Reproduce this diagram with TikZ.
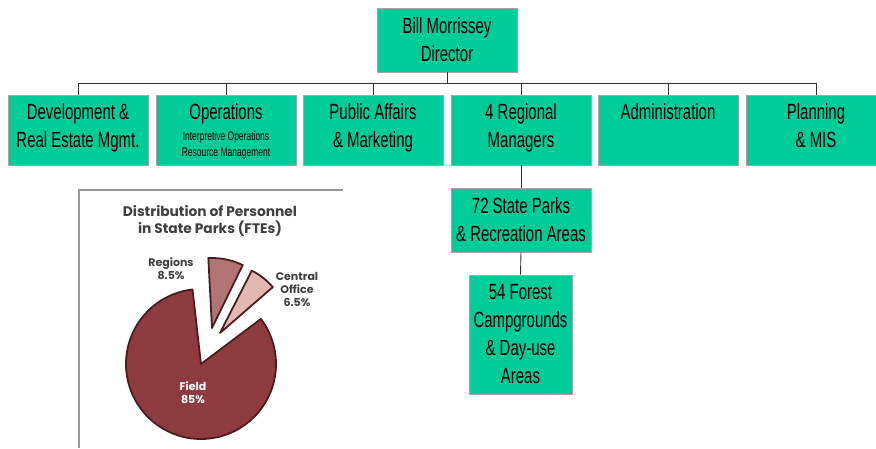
\documentclass[tikz,border=0pt]{standalone}
\usepackage{fontspec}
\newfontfamily\orgfont[FakeStretch=0.68]{Liberation Sans}
\newfontfamily\piefont{Poppins}
\usetikzlibrary{positioning}
\definecolor{parkgreen}{HTML}{00CC99}
\definecolor{fieldred}{HTML}{8E3B40}
\definecolor{regionred}{HTML}{B27472}
\definecolor{officepink}{HTML}{E2B8B3}
\definecolor{pieline}{HTML}{4A1E20}

\begin{document}
\begin{tikzpicture}[x=1pt, y=-1pt,
  unit/.style={draw=gray!70, line width=0.8pt, fill=parkgreen, minimum width=140pt, minimum height=70pt, inner sep=0pt},
  toptext/.style={anchor=north, inner sep=0pt, yshift=-9pt, align=center, font=\orgfont\fontsize{22}{28}\selectfont},
  plainbox/.style={draw=gray!70, line width=0.8pt, fill=parkgreen, align=center, inner sep=0pt, font=\orgfont\fontsize{22}{28}\selectfont},
  link/.style={draw=black!80, line width=0.9pt},
  slice/.style={draw=pieline, line width=1.8pt, line join=round},
  pietxt/.style={font=\piefont\bfseries\fontsize{11}{13}\selectfont, align=center, text=black!75}
]
\useasboundingbox (0,0) rectangle (876,448);
\clip (0,0) rectangle (876,448);
% ---- org chart
\node[plainbox, minimum width=140pt, minimum height=64pt] (dir) at (447,40) {Bill Morrissey\\Director};
\coordinate (bus) at (447,83);
\node[unit, label={[toptext]north:{Development \&\\Real Estate Mgmt.}}] (dev) at (78,130) {};
\node[unit, label={[toptext]north:{Operations\\[-7pt]{\fontsize{12.5}{16}\selectfont Interpretive Operations}\\[-12pt]{\fontsize{12.5}{16}\selectfont Resource Management}}}] (ops) at (226,130) {};
\node[unit, label={[toptext]north:{Public Affairs\\\& Marketing}}] (pub) at (373,130) {};
\node[unit, label={[toptext]north:{4 Regional\\Managers}}] (reg) at (521,130) {};
\node[unit, label={[toptext]north:{Administration}}] (adm) at (668,130) {};
\node[unit, label={[toptext]north:{Planning\\\& MIS}}] (plan) at (816,130) {};
\node[plainbox, minimum width=140pt, minimum height=64pt] (parks) at (521,220) {72 State Parks\\\& Recreation Areas};
\node[plainbox, minimum width=103pt, minimum height=119pt] (forest) at (520.5,334.5) {54 Forest\\Campgrounds\\\& Day-use\\Areas};
\draw[link] (dir.south) -- (bus);
\draw[link] (dev.north |- bus) -- (plan.north |- bus);
\foreach \n in {dev,ops,pub,reg,adm,plan} { \draw[link] (\n.north) -- (\n.north |- bus); }
\draw[link] (reg.south) -- (parks.north);
\draw[link] (parks.south) -- (forest.north);
% ---- pie chart
\draw[gray!80, line width=1.5pt] (79,448) -- (79,190) -- (343,190);
\begin{scope}[shift={(201,364)}, yscale=-1]
  \draw[slice, fill=fieldred] (0,0) -- (96.5:75) arc[start angle=96.5, end angle=397, radius=75] -- cycle;
  \draw[slice, fill=regionred] (11,36) -- ++(93:70) arc[start angle=93, end angle=64, radius=70] -- cycle;
  \draw[slice, fill=officepink] (19,31) -- ++(63:70) arc[start angle=63, end angle=41, radius=70] -- cycle;
\end{scope}
\node[pietxt, font=\piefont\bfseries\fontsize{13.8}{17}\selectfont] (pietitle) at (210,221) {Distribution of Personnel\\in State Parks (FTEs)};
\node[pietxt] (reglbl) at (171,269) {Regions\\8.5\%};
\node[pietxt] (offlbl) at (297,289) {Central\\Office\\6.5\%};
\node[pietxt, text=white] (fieldlbl) at (193,393) {Field\\85\%};
\end{tikzpicture}
\end{document}
